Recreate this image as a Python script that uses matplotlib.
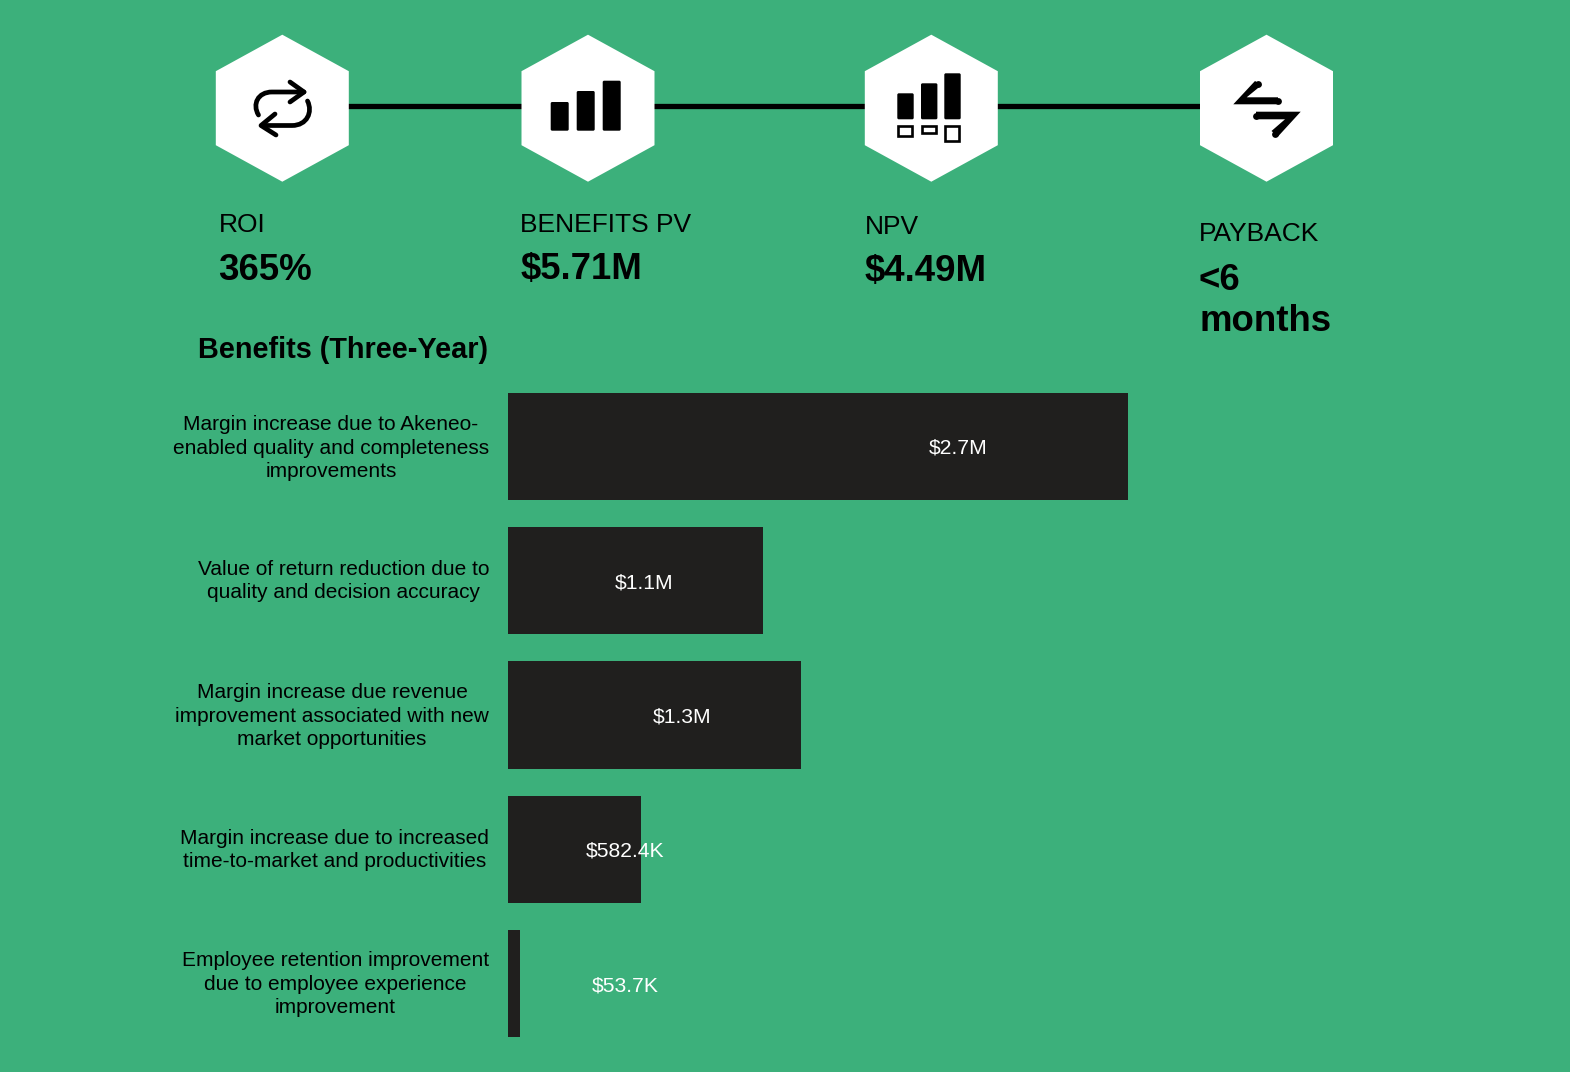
import matplotlib
matplotlib.use("Agg")
import matplotlib.pyplot as plt
from matplotlib.patches import Polygon, Rectangle, FancyBboxPatch, PathPatch
from matplotlib.path import Path

plt.rcParams["font.family"] = ["Liberation Sans", "DejaVu Sans"]

GREEN = "#3cb07b"
DARK = "#201f1e"
W, H = 1570, 1072

categories = [
    "Margin increase due to Akeneo-\nenabled quality and completeness\nimprovements",
    "Value of return reduction due to\nquality and decision accuracy",
    "Margin increase due revenue\nimprovement associated with new\nmarket opportunities",
    "Margin increase due to increased\ntime-to-market and productivities",
    "Employee retention improvement\ndue to employee experience\nimprovement",
]
values = [2.7, 1.11, 1.275, 0.5824, 0.0537]
value_labels = ["$2.7M", "$1.1M", "$1.3M", "$582.4K", "$53.7K"]

kpi_names = ["ROI", "BENEFITS PV", "NPV", "PAYBACK"]
kpi_values = ["365%", "$5.71M", "$4.49M", "<6\nmonths"]

# layout in pixels
label_x = [958, 644, 682, 625, 625]
label_y = [448, 583, 717, 851, 986]
cat_y = [448, 581, 716, 850, 984]
kpi_x = [218.5, 520.5, 864.5, 1199]
kpi_name_y = [225, 225, 227, 234]
kpi_value_y = [270, 270, 272, 280]
hex_x = [282.3, 588, 931.3, 1266.5]

fig = plt.figure(figsize=(W / 100, H / 100), dpi=100, facecolor=GREEN)
bg = fig.add_axes([0, 0, 1, 1], zorder=2)
bg.set_xlim(0, W)
bg.set_ylim(H, 0)
bg.axis("off")

# connecting line and hexagons
bg.plot([282, 1266], [106.4, 106.4], color="black", lw=3.8, zorder=1, solid_capstyle="butt")
for cx in hex_x:
    cy = 108.2
    hexagon = [(cx, cy - 73.5), (cx + 66.5, cy - 37), (cx + 66.5, cy + 37),
               (cx, cy + 73.5), (cx - 66.5, cy + 37), (cx - 66.5, cy - 37)]
    bg.add_patch(Polygon(hexagon, closed=True, fc="white", ec="none", zorder=2))

# icon 1, repeat arrows
icon = dict(color="black", lw=3.4, zorder=3, solid_capstyle="round", solid_joinstyle="round")
codes1 = [Path.MOVETO, Path.CURVE4, Path.CURVE4, Path.CURVE4, Path.LINETO]
for verts in [
    [(258.5, 115), (252, 104), (258, 92), (272, 92), (304, 92)],
    [(307.5, 101), (313, 112), (307, 125.5), (292, 125.5), (262, 125.5)],
]:
    bg.add_patch(PathPatch(Path(verts, codes1), fc="none", ec="black", lw=3.4,
                           capstyle="round", zorder=3))
bg.plot([290, 304, 290], [82, 92, 102], **icon)
bg.plot([275, 261, 276], [114, 125.5, 135], **icon)


def rounded_bar(x0, top, x1, bottom):
    bg.add_patch(FancyBboxPatch((x0 + 1.5, top + 1.5), x1 - x0 - 3, bottom - top - 3,
                                boxstyle="round,pad=1.5,rounding_size=1.5",
                                fc="black", ec="none", zorder=3))


# icon 2, bars
for x0, top in zip([550.7, 576.7, 602.7], [102, 91, 80.7]):
    rounded_bar(x0, top, x0 + 18, 130.7)

# icon 3, bars with small boxes
for x0, top in zip([897.3, 921, 944.3], [93.3, 83.3, 73.3]):
    rounded_bar(x0, top, x0 + 16.4, 119.3)
for x0, bottom in zip([896.8, 920.5, 943.8], [137.2, 134.5, 142.2]):
    bg.add_patch(Rectangle((x0 + 1.2, 126), 14, bottom - 127.2, fc="none",
                           ec="black", lw=1.9, zorder=3))

# icon 4, swap arrows
arrows = [
    [(1233.3, 104.3), (1255, 81), (1261.7, 85), (1246.7, 97.3), (1278, 97.3), (1278, 104.3)],
    [(1300.7, 111.7), (1278, 136.5), (1271.5, 131), (1285, 119.3), (1256, 119.3), (1256, 111.7)],
]
for verts in arrows:
    bg.add_patch(Polygon(verts, closed=True, fc="black", ec="none", zorder=3))
caps = [(1258, 83.5), (1278, 100.8), (1275, 133.5), (1256, 115.5)]
for x, y in caps:
    bg.plot([x], [y], "o", ms=4.9, color="black", mec="none", zorder=3)

# kpi text
for x, name, ny, val, vy in zip(kpi_x, kpi_names, kpi_name_y, kpi_values, kpi_value_y):
    bg.text(x, ny, name, fontsize=19, color="black", ha="left", va="center")
    for j, line in enumerate(val.split("\n")):
        bg.text(x, vy + 41.5 * j, line, fontsize=26.4, fontweight="bold",
                color="black", ha="left", va="center")

bg.text(197.5, 350, "Benefits (Three-Year)", fontsize=20.8, fontweight="bold",
        color="black", ha="left", va="center")

# bars
ax = fig.add_axes([507.5 / W, 1 - 1050.5 / H, 840 / W, 671 / H], zorder=1)
ax.patch.set_alpha(0)
ax.barh(range(len(values)), values, height=0.8, color=DARK)
ax.set_xlim(0, 840 * 2.7 / 620.5)
ax.set_ylim(4.5, -0.5)
ax.axis("off")

for i, (cat, lab) in enumerate(zip(categories, value_labels)):
    bg.text(489, cat_y[i], cat, fontsize=15, color="black", ha="right", va="center",
            multialignment="center", linespacing=1.3)
    bg.text(label_x[i], label_y[i], lab, fontsize=15.2, color="white",
            ha="center", va="center", zorder=5)

fig.savefig("out.png", dpi=100, facecolor=GREEN)
